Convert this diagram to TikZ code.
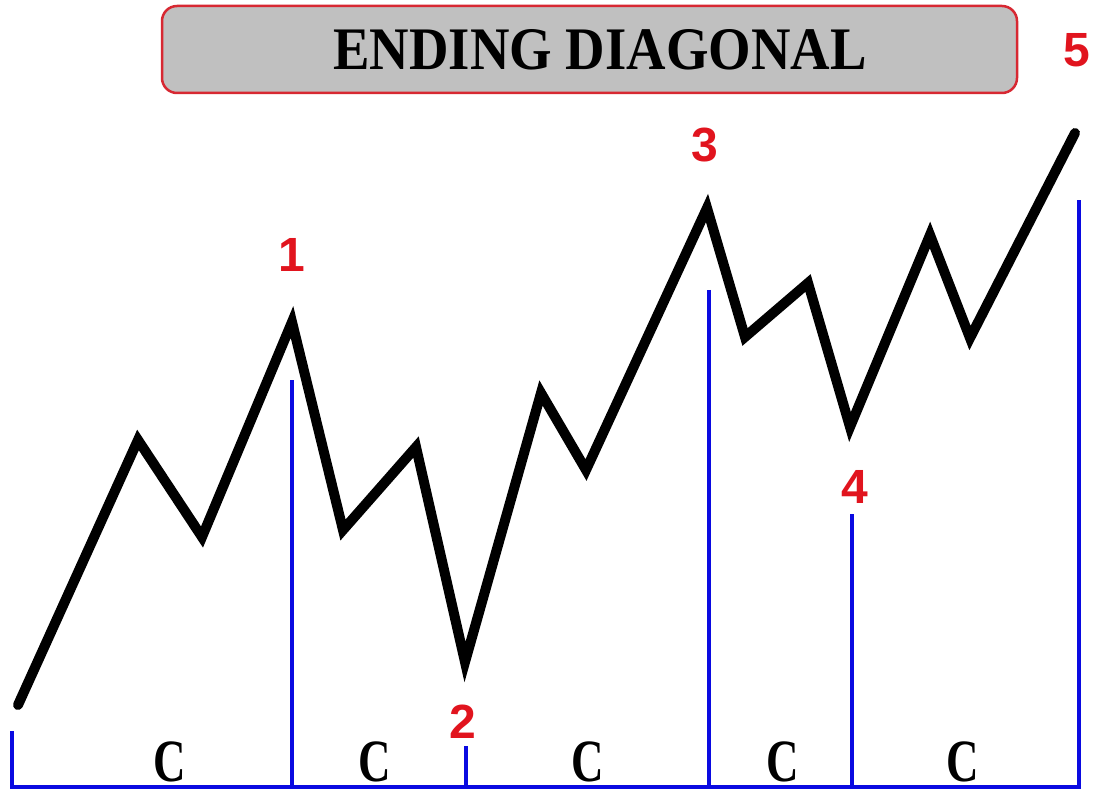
\documentclass[tikz,border=0pt]{standalone}
\usepackage{fontspec}
\usepackage{graphicx}
\newfontfamily\titlefont{Liberation Serif}
\newfontfamily\digitfont{Liberation Sans}
\definecolor{boxgray}{RGB}{192,192,192}
\definecolor{boxred}{RGB}{215,40,50}
\definecolor{numred}{RGB}{225,20,30}
\definecolor{lineblue}{RGB}{10,10,225}
\begin{document}
\begin{tikzpicture}[x=1pt,y=-1pt,
  wave/.style={line width=10pt,black,line cap=round,line join=miter},
  blueline/.style={line width=3.2pt,lineblue},
  numlabel/.style={text=numred,font=\digitfont\bfseries\fontsize{48}{48}\selectfont,inner sep=0pt},
  clabel/.style={inner sep=0pt,font=\titlefont\bfseries\fontsize{60}{60}\selectfont},
  titlebox/.style={draw=boxred,fill=boxgray,line width=2.5pt,rounded corners=15pt,inner sep=0pt}]
\useasboundingbox (0,0) rectangle (1094,791);
% title
\node[titlebox,minimum width=855pt,minimum height=87pt] (title) at (589.5,49.5) {};
\node[inner sep=0pt] (titletext) at (600,50) {\resizebox{533pt}{40pt}{\titlefont\bfseries ENDING DIAGONAL}};
% wave points
\coordinate (p0) at (18,705);
\coordinate (p1) at (138,440);
\coordinate (p2) at (202,537);
\coordinate (w1) at (292,322);
\coordinate (p4) at (343,530);
\coordinate (p5) at (416,447);
\coordinate (w2) at (465,662);
\coordinate (p7) at (541,393);
\coordinate (p8) at (586,470);
\coordinate (w3) at (707,208);
\coordinate (p10) at (745,337);
\coordinate (p11) at (808,283);
\coordinate (w4) at (850,427);
\coordinate (p13) at (930,235);
\coordinate (p14) at (970,338);
\coordinate (w5) at (1075,133);
\draw[wave] (p0) -- (p1) -- (p2) -- (w1) -- (p4) -- (p5) -- (w2) -- (p7) -- (p8) -- (w3) -- (p10) -- (p11) -- (w4) -- (p13) -- (p14) -- (w5);
% blue lines
\coordinate (b0t) at (12,731);
\coordinate (b0) at (12,787);
\coordinate (b1t) at (292,380);
\coordinate (b1) at (292,787);
\coordinate (b2t) at (466,746);
\coordinate (b2) at (466,787);
\coordinate (b3t) at (709,290);
\coordinate (b3) at (709,787);
\coordinate (b4t) at (852,514);
\coordinate (b4) at (852,787);
\coordinate (b5t) at (1079,200);
\coordinate (b5) at (1079,787);
\draw[blueline] (b0t) -- (b0) -- (b5) -- (b5t);
\draw[blueline] (b1t) -- (b1);
\draw[blueline] (b2t) -- (b2);
\draw[blueline] (b3t) -- (b3);
\draw[blueline] (b4t) -- (b4);
% numbers
\node[numlabel] (n1) at (292,255) {1};
\node[numlabel] (n2) at (463,722) {2};
\node[numlabel] (n3) at (705,145) {3};
\node[numlabel] (n4) at (855,487) {4};
\node[numlabel] (n5) at (1077,50) {5};
% C labels
\foreach \cx/\nm in {170/c1,375/c2,588/c3,783/c4,963/c5}
  \node[clabel] (\nm) at (\cx,762) {\scalebox{0.75}[1]{C}};
\end{tikzpicture}
\end{document}
